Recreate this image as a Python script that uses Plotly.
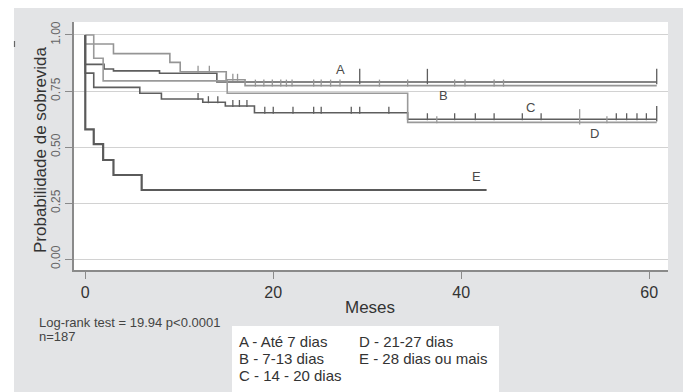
import plotly.graph_objects as go

# ---------------- data ----------------
groups = ["A - Até 7 dias", "B - 7-13 dias", "C - 14 - 20 dias", "D - 21-27 dias", "E - 28 dias ou mais"]
curve_letters = ["A", "B", "C", "D", "E"]

# step points (time in months, survival probability)
a_times = [0, 0, 2.0, 3.0, 7.9, 14.0, 60.8]
a_surv = [1.0, 0.869, 0.848, 0.84, 0.829, 0.79, 0.79]
b_times = [0, 0, 3.0, 9.0, 10.1, 15.0, 17.0, 60.8]
b_surv = [1.0, 0.96, 0.917, 0.878, 0.836, 0.80, 0.774, 0.774]
c_times = [0, 0, 0.9, 5.8, 8.1, 12.5, 14.9, 18.0, 34.3, 60.8]
c_surv = [1.0, 0.83, 0.766, 0.74, 0.714, 0.70, 0.683, 0.653, 0.624, 0.624]
d_times = [0, 0.9, 1.9, 15.1, 34.3, 60.8]
d_surv = [1.0, 0.896, 0.795, 0.74, 0.61, 0.61]
e_times = [0, 0, 0.9, 1.9, 3.0, 6.0, 42.7]
e_surv = [1.0, 0.579, 0.513, 0.442, 0.375, 0.308, 0.308]

# censoring times (short ticks) and coincident censorings (tall ticks)
a_cens = []
a_cens_tall = [29.2, 36.4, 60.8]
b_cens = [12.0, 13.2, 15.0, 15.7, 16.2, 18.1, 19.0, 19.9, 20.8, 21.4, 22.0, 24.3, 25.1,
          26.1, 27.1, 31.3, 34.3, 39.3, 40.4, 43.5, 44.5]
b_cens_tall = []
c_cens = [12.0, 13.1, 14.1, 15.7, 16.4, 17.2, 19.1, 20.0, 22.1, 24.3, 25.1, 28.3, 29.2, 32.3,
          36.4, 39.3, 41.5, 43.5, 46.5, 48.5, 56.5, 57.6, 58.7, 59.7]
c_cens_tall = [60.8]
d_cens = [37.4, 55.5]
d_cens_tall = [52.6]
e_cens = []
e_cens_tall = []

# curve label positions (time, probability)
label_t = [27.2, 38.1, 47.4, 54.2, 41.6]
label_s = [0.844, 0.732, 0.676, 0.561, 0.367]

y_ticks = [0, 0.25, 0.5, 0.75, 1.0]
y_ticktext = ["0.00", "0.25", "0.50", "0.75", "1.00"]
x_ticks = [0, 20, 40, 60]

logrank_text = "Log-rank test = 19.94 p<0.0001"
n_text = "n=187"
legend_col1 = ["A - Até 7 dias", "B - 7-13 dias", "C - 14 - 20 dias"]
legend_col2 = ["D - 21-27 dias", "E - 28 dias ou mais"]

# ---------------- styling ----------------
colors = ["#5e5e5e", "#959595", "#5e5e5e", "#9a9a9a", "#5a5a5a"]
widths = [1.6, 1.6, 1.6, 1.6, 2.2]
FONT = "Liberation Sans, Arial, sans-serif"

OFF = 8  # page body margin offset
W, H = 691 - OFF, 392 - OFF
L, R, T, B = 74 - OFF, 23, 22 - OFF, 122
PW, PH = W - L - R, H - T - B
XR = [-1.2, 62]
YR = [-0.049, 1.058]


def px2paper_x(px):  # absolute window pixel -> paper
    return (px - OFF - L) / PW


def px2paper_y(py):
    return (OFF + H - B - py) / PH


def surv_at(times, surv, t):
    val = surv[0]
    for ti, si in zip(times, surv):
        if ti <= t:
            val = si
    return val


fig = go.Figure()

all_times = [a_times, b_times, c_times, d_times, e_times]
all_surv = [a_surv, b_surv, c_surv, d_surv, e_surv]
all_cens = [a_cens, b_cens, c_cens, d_cens, e_cens]
all_tall = [a_cens_tall, b_cens_tall, c_cens_tall, d_cens_tall, e_cens_tall]

px_per_unit = PH / (YR[1] - YR[0])

for i in range(5):
    fig.add_trace(go.Scatter(
        x=all_times[i], y=all_surv[i], mode="lines", line_shape="hv",
        line=dict(color=colors[i], width=widths[i]), name=groups[i],
        showlegend=False, hoverinfo="skip"))
    for cens, size in ((all_cens[i], 5), (all_tall[i], 11)):
        if not cens:
            continue
        ys = [surv_at(all_times[i], all_surv[i], t) + (size / 2) / px_per_unit for t in cens]
        fig.add_trace(go.Scatter(
            x=cens, y=ys, mode="markers",
            marker=dict(symbol="line-ns", size=size,
                        line=dict(color=colors[i], width=1.3)),
            showlegend=False, hoverinfo="skip"))

annotations = []
for i in range(5):
    annotations.append(dict(x=label_t[i], y=label_s[i], xref="x", yref="y",
                            xanchor="center", yanchor="middle",
                            text=curve_letters[i], showarrow=False,
                            font=dict(family=FONT, size=13, color="#4a4a4a")))


def ann(px, py, text, size, color, xanchor="center", angle=0):
    return dict(x=px2paper_x(px), y=px2paper_y(py), xref="paper", yref="paper",
                xanchor=xanchor, yanchor="middle", text=text, textangle=angle,
                showarrow=False, font=dict(family=FONT, size=size, color=color))


annotations.append(ann(40, 150, "Probabilidade de sobrevida", 17, "#333333", angle=-90))
annotations.append(ann(370, 307, "Meses", 17, "#333333"))
annotations.append(ann(37, 322, logrank_text, 13, "#444444", xanchor="left"))
annotations.append(ann(37, 337, n_text, 13, "#444444", xanchor="left"))
row_y = [341, 358, 375]
for j, txt in enumerate(legend_col1):
    annotations.append(ann(237, row_y[j], txt, 15, "#333333", xanchor="left"))
for j, txt in enumerate(legend_col2):
    annotations.append(ann(357, row_y[j], txt, 15, "#333333", xanchor="left"))

shapes = [
    # outer gray panel
    dict(type="rect", xref="paper", yref="paper", layer="below",
         x0=px2paper_x(14), x1=px2paper_x(700), y0=px2paper_y(0), y1=px2paper_y(400),
         fillcolor="#e3e4e6", line=dict(width=0)),
    # white plot region
    dict(type="rect", xref="paper", yref="paper", layer="below",
         x0=0, x1=1, y0=0, y1=1, fillcolor="white", line=dict(width=0)),
    # white legend box
    dict(type="rect", xref="paper", yref="paper", layer="below",
         x0=px2paper_x(232), x1=px2paper_x(499), y0=px2paper_y(326), y1=px2paper_y(400),
         fillcolor="white", line=dict(width=0)),
    # small stray mark at left
    dict(type="line", xref="paper", yref="paper",
         x0=px2paper_x(14.5), x1=px2paper_x(14.5), y0=px2paper_y(41), y1=px2paper_y(47),
         line=dict(color="#666666", width=1.2)),
]

fig.update_layout(
    width=W, height=H,
    margin=dict(l=L, r=R, t=T, b=B, pad=0),
    paper_bgcolor="white", plot_bgcolor="white",
    showlegend=False,
    annotations=annotations, shapes=shapes,
    xaxis=dict(range=XR, tickvals=x_ticks, ticks="outside", ticklen=7, tickwidth=1.2,
               tickcolor="#8a8a8a", showline=True, linecolor="#8a8a8a", linewidth=1.5,
               showgrid=False, zeroline=False,
               tickfont=dict(family=FONT, size=16, color="#333333")),
    yaxis=dict(range=YR, tickvals=y_ticks, ticktext=y_ticktext, ticks="outside", ticklen=7,
               tickwidth=1.2, tickcolor="#8a8a8a", showline=True, linecolor="#8a8a8a",
               linewidth=1.5, showgrid=True, gridcolor="#d2d2d2", gridwidth=1,
               zeroline=False, tickangle=-90,
               tickfont=dict(family=FONT, size=12, color="#666666")),
)

fig.write_html("out.html")
